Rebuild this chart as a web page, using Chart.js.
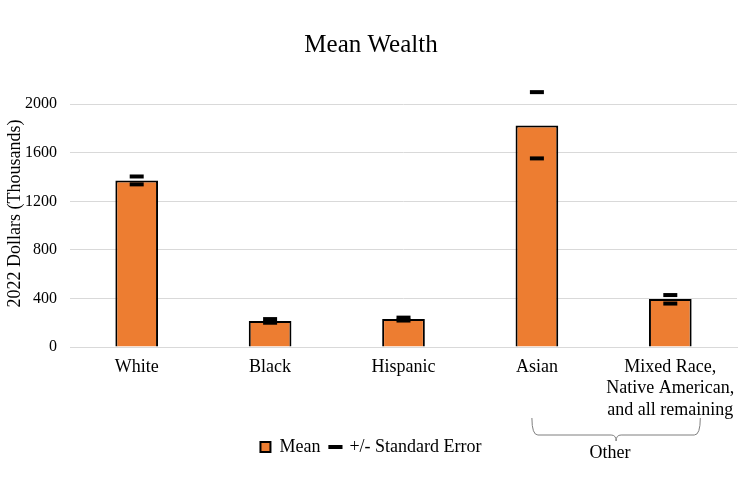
<!DOCTYPE html>
<html><head><meta charset="utf-8">
<script src="https://cdn.jsdelivr.net/npm/chart.js@4"></script>
<style>html,body{margin:0;padding:0;background:#fff}#wrap{width:748px;height:486px}</style>
</head><body><div id="wrap"><canvas id="c"></canvas></div>
<script>
const categories = ['White', 'Black', 'Hispanic', 'Asian', ['Mixed Race,', 'Native American,', 'and all remaining']];
const meanValues = [1372, 215, 230, 1826, 395];
const upperSE = [1405, 230, 242, 2100, 428];
const lowerSE = [1340, 200, 218, 1554, 358];
const yTicks = [0, 400, 800, 1200, 1600, 2000];
const groupLabel = 'Other';

const FONT = '"Liberation Serif", "Times New Roman", serif';

const bracketPlugin = {
  id: 'bracket',
  afterDraw(chart) {
    const ctx = chart.ctx, x = chart.scales.x;
    const l = x.getPixelForValue(3) - 5, r = x.getPixelForValue(4) + 30;
    const m = (l + r) / 2;
    const top = 418, mid = 435, tip = 441;
    ctx.save();
    ctx.strokeStyle = '#7f7f7f'; ctx.lineWidth = 1;
    ctx.beginPath();
    ctx.moveTo(l, top); ctx.quadraticCurveTo(l, mid, l + 6, mid);
    ctx.lineTo(m - 5, mid); ctx.quadraticCurveTo(m, mid, m, tip);
    ctx.quadraticCurveTo(m, mid, m + 5, mid);
    ctx.lineTo(r - 6, mid); ctx.quadraticCurveTo(r, mid, r, top);
    ctx.stroke();
    ctx.fillStyle = '#000'; ctx.font = '18px ' + FONT;
    ctx.textAlign = 'center'; ctx.textBaseline = 'middle';
    ctx.fillText(groupLabel, m - 6, 453);
    ctx.restore();
  }
};

new Chart(document.getElementById('c'), {
  type: 'bar',
  data: {
    labels: categories,
    datasets: [
      { label: 'Mean', data: meanValues, backgroundColor: '#ED7D31', borderColor: '#000', borderWidth: 2,
        barPercentage: 0.32, categoryPercentage: 1, order: 2 },
      { type: 'line', label: '+/- Standard Error', data: upperSE, showLine: false, pointStyle: 'line',
        pointRadius: 7, pointHoverRadius: 7, pointBorderWidth: 4, borderColor: '#000', backgroundColor: '#000', order: 1 },
      { type: 'line', label: 'lower', data: lowerSE, showLine: false, pointStyle: 'line',
        pointRadius: 7, pointHoverRadius: 7, pointBorderWidth: 4, borderColor: '#000', backgroundColor: '#000', order: 1 }
    ]
  },
  options: {
    responsive: true, maintainAspectRatio: false, animation: false,
    layout: { padding: { left: 4, right: 10, top: 12, bottom: 20 } },
    plugins: {
      title: { display: true, text: 'Mean Wealth', color: '#000', font: { family: FONT, size: 25, weight: 'normal' }, padding: { top: 18, bottom: 20 } },
      tooltip: { enabled: false },
      legend: {
        position: 'bottom',
        labels: {
          color: '#000', font: { family: FONT, size: 18 }, usePointStyle: true, padding: 10, boxWidth: 10, boxHeight: 10,
          generateLabels(chart) {
            return [
              { text: 'Mean', fillStyle: '#ED7D31', strokeStyle: '#000', lineWidth: 2, pointStyle: 'rect', datasetIndex: 0, fontColor: '#000' },
              { text: '+/- Standard Error', fillStyle: '#000', strokeStyle: '#000', lineWidth: 4, pointStyle: 'line', datasetIndex: 1, fontColor: '#000' }
            ];
          }
        }
      }
    },
    scales: {
      x: {
        grid: { display: false },
        border: { color: '#d9d9d9' },
        ticks: { color: '#000', font: { family: FONT, size: 18 }, maxRotation: 0, autoSkip: false, padding: 1 },
        afterFit(s) { s.height = 81; }
      },
      y: {
        min: 0, max: 2200,
        afterBuildTicks(s) { s.ticks = yTicks.map(v => ({ value: v })); },
        grid: { color: '#d9d9d9', drawTicks: false },
        border: { display: false },
        ticks: { color: '#000', font: { family: FONT, size: 16 }, padding: 13, callback: (v) => String(v) },
        title: { display: true, text: '2022 Dollars (Thousands)', color: '#000', font: { family: FONT, size: 18 }, padding: { top: 0, bottom: 2 } },
        afterFit(s) { s.width = 66; }
      }
    }
  },
  plugins: [bracketPlugin]
});
</script></body></html>
